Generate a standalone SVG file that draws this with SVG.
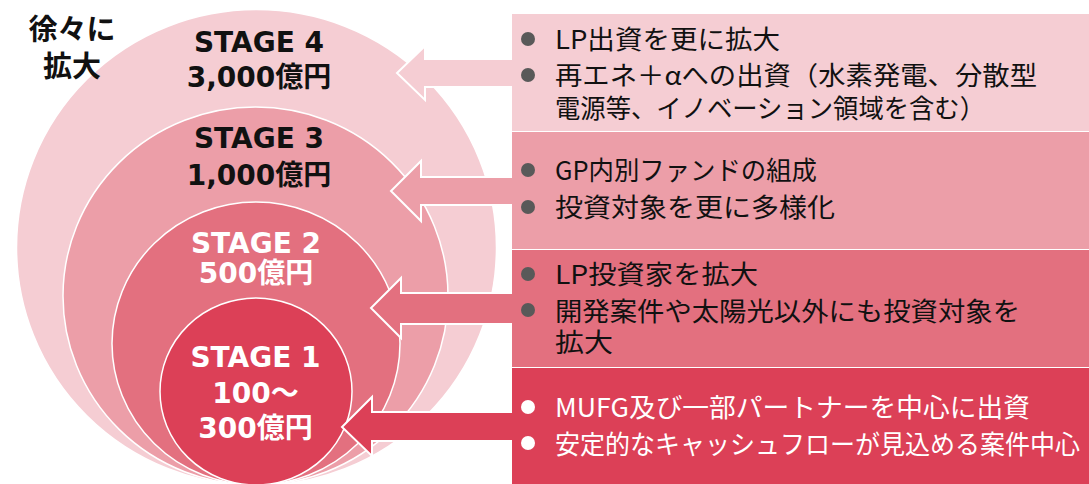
<svg xmlns="http://www.w3.org/2000/svg" width="1089" height="484" viewBox="0 0 1089 484">
<style>
.c4{fill:#F5CDD3}.c3{fill:#EC9EA8}.c2{fill:#E3707F}.c1{fill:#DC4057}
.ring{stroke:#FFFFFF;stroke-width:1.5}
.stg{font-family:"DejaVu Sans","Noto Sans CJK JP",sans-serif;font-weight:bold;font-size:28px;text-anchor:middle}
.dk{fill:#111111}.wh{fill:#FFFFFF}
.arr{stroke:#FFFFFF;stroke-width:2;stroke-linejoin:miter}
.bt{font-family:"Noto Sans CJK JP","Noto Sans",sans-serif;font-size:26px}
.bd{fill:#595959}
.ttl{font-family:"Noto Sans CJK JP",sans-serif;font-weight:bold;font-size:29px;text-anchor:middle;fill:#111111}
</style>
<g id="stage4"><ellipse class="c4 ring" cx="256.5" cy="247.5" rx="240" ry="238"/>
<text class="stg dk" x="259" y="52">STAGE 4</text><text class="stg dk" x="259" y="87">3,000億円</text></g>
<g id="stage3"><ellipse class="c3 ring" cx="255.5" cy="296" rx="192.5" ry="189"/>
<text class="stg dk" x="259" y="148">STAGE 3</text><text class="stg dk" x="259" y="185">1,000億円</text></g>
<g id="stage2"><ellipse class="c2 ring" cx="256" cy="343.5" rx="144" ry="141.5"/>
<text class="stg wh" x="256" y="253">STAGE 2</text><text class="stg wh" x="256" y="283">500億円</text></g>
<g id="stage1"><ellipse class="c1 ring" cx="256" cy="391.5" rx="96" ry="93.5"/>
<text class="stg wh" x="255.5" y="367">STAGE 1</text><text class="stg wh" x="255.5" y="403">100～</text><text class="stg wh" x="255.5" y="438">300億円</text></g>
<g id="connectors">
<path class="c4 arr" d="M516,59 L425,59 L425,46 L397,73 L425,100 L425,87 L516,87"/>
<path class="c3 arr" d="M516,177 L421,177 L421,161 L391,191 L421,221 L421,205 L516,205"/>
<path class="c2 arr" d="M516,293 L401,293 L401,278 L371,308 L401,338 L401,324 L516,324"/>
<path class="c1 arr" d="M516,412 L372,412 L372,397 L342,427 L372,456 L372,441 L516,441"/>
</g>
<g id="box4"><rect class="c4" x="512" y="14" width="577" height="117"/>
<circle class="bd" cx="528" cy="39" r="7"/><circle class="bd" cx="528" cy="75" r="7"/>
<text class="bt dk" x="555" y="48.5" textLength="225" lengthAdjust="spacingAndGlyphs">LP出資を更に拡大</text>
<text class="bt dk" x="555" y="84.5" textLength="482" lengthAdjust="spacingAndGlyphs">再エネ＋αへの出資（水素発電、分散型</text>
<text class="bt dk" x="555" y="117.5" textLength="430" lengthAdjust="spacingAndGlyphs">電源等、イノベーション領域を含む）</text></g>
<g id="box3"><rect class="c3" x="512" y="132" width="577" height="117"/>
<circle class="bd" cx="528" cy="170" r="7"/><circle class="bd" cx="528" cy="207" r="7"/>
<text class="bt dk" x="555" y="179.5" textLength="262" lengthAdjust="spacingAndGlyphs">GP内別ファンドの組成</text>
<text class="bt dk" x="555" y="216.5" textLength="280" lengthAdjust="spacingAndGlyphs">投資対象を更に多様化</text></g>
<g id="box2"><rect class="c2" x="512" y="250" width="577" height="117"/>
<circle class="bd" cx="528" cy="274" r="7"/><circle class="bd" cx="528" cy="310" r="7"/>
<text class="bt dk" x="555" y="283.5" textLength="203" lengthAdjust="spacingAndGlyphs">LP投資家を拡大</text>
<text class="bt dk" x="555" y="320.5" textLength="465" lengthAdjust="spacingAndGlyphs">開発案件や太陽光以外にも投資対象を</text>
<text class="bt dk" x="555" y="351.5" textLength="58" lengthAdjust="spacingAndGlyphs">拡大</text></g>
<g id="box1"><rect class="c1" x="512" y="368" width="577" height="117"/>
<circle class="wh" cx="528" cy="407" r="7"/><circle class="wh" cx="528" cy="443" r="7"/>
<text class="bt wh" x="555" y="416.5" textLength="475" lengthAdjust="spacingAndGlyphs">MUFG及び一部パートナーを中心に出資</text>
<text class="bt wh" x="555" y="453.5" font-size="25" textLength="525" lengthAdjust="spacingAndGlyphs">安定的なキャッシュフローが見込める案件中心</text></g>
<g id="title"><text class="ttl" x="72" y="40">徐々に</text>
<text class="ttl" x="72" y="77">拡大</text></g>
</svg>
